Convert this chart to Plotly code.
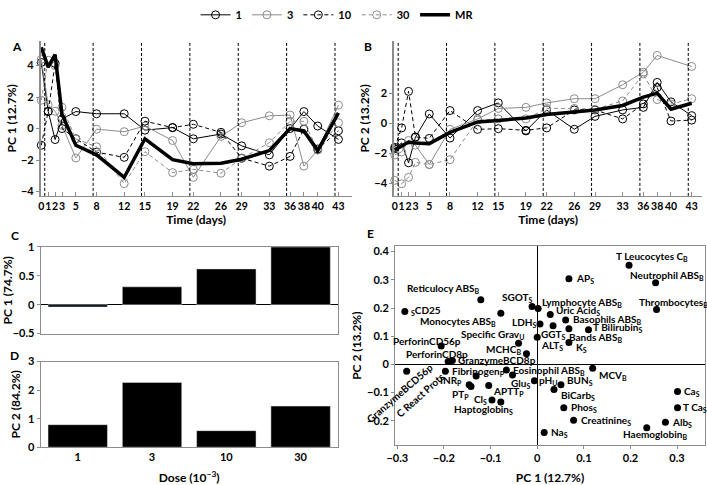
import plotly.graph_objects as go

# ---------------- data ----------------
DAYS = [0, 1, 2, 3, 5, 8, 12, 15, 19, 22, 26, 29, 33, 36, 38, 40, 43]
DAY_LABELS = [str(d) for d in DAYS]
DOSE_DAYS = [0.5, 7.5, 14.5, 21.5, 28.5, 35.5, 42.5]

A_1 = [4.2, 1.1, -0.7, 0.6, 1.08, 0.94, 0.94, -0.1, 0.06, -0.65, -0.35, -1.1, -1.67, 0.0, 1.08, 0.16, -0.69]
A_3 = [4.4, 1.5, 1.1, 0.2, -1.87, -0.04, -0.2, 0.16, -0.76, -3.1, -0.5, 0.37, 0.81, 0.86, -2.39, -1.36, 1.49]
A_10 = [-1.06, 1.08, 4.14, 0.0, -0.65, -1.5, -1.83, 0.47, 0.06, 0.27, -0.24, -1.88, -2.39, -1.77, -0.04, -1.3, -0.14]
A_30 = [1.8, 4.34, 4.0, 1.35, -0.65, -1.16, -3.5, -1.47, -2.8, -2.59, -2.84, -1.9, -0.9, 0.46, 0.46, -1.36, 0.37]
A_MR = [5.16, 3.9, 4.7, 0.9, -1.06, -1.67, -3.1, -0.65, -1.98, -2.24, -2.2, -1.95, -1.4, 0.0, -0.15, -1.4, 1.0]

B_1 = [-1.7, -1.3, -2.63, -0.92, 0.63, -0.98, 0.86, 1.37, -0.5, 0.9, -0.39, 0.47, 0.9, 1.07, 2.74, 1.44, 0.52]
B_3 = [-2.1, -1.9, -1.14, -1.45, -2.75, -0.4, 0.3, 1.0, 1.07, 1.37, 1.65, 1.65, 2.58, 3.42, 4.54, None, 3.8]
B_10 = [-1.6, -0.3, 2.14, -0.9, -1.0, 0.86, -0.4, -0.35, -0.46, -0.3, 0.9, 0.9, 0.3, 1.3, 2.4, 0.16, 0.22]
B_30 = [-3.8, -4.03, -3.6, -2.6, -2.74, -2.42, 0.22, 0.3, 0.3, 1.0, 1.0, 0.94, 1.5, 3.3, 1.59, 1.29, 1.65]
B_MR = [-1.77, -1.5, -1.24, -1.3, -1.35, -0.6, 0.1, 0.2, 0.36, 0.6, 0.8, 0.9, 1.2, 1.76, 2.02, 0.95, 1.35]

DOSES = ["1", "3", "10", "30"]
C_PC1 = [-0.04, 0.31, 0.62, 1.0]
D_PC2 = [0.79, 2.27, 0.58, 1.44]

E_NAMES = [
    "T Leucocytes C<sub>B</sub>", "Neutrophil ABS<sub>B</sub>", "Thrombocytes<sub>B</sub>", "AP<sub>S</sub>",
    "Reticulocy ABS<sub>B</sub>", "<sub>S</sub>CD25", "Monocytes ABS<sub>B</sub>", "SGOT<sub>S</sub>",
    "Lymphocyte ABS<sub>B</sub>", "Uric Acid<sub>S</sub>", "LDH<sub>S</sub>", "GGT<sub>S</sub>",
    "Basophils ABS<sub>B</sub>", "Bands ABS<sub>B</sub>", "T Bilirubin<sub>S</sub>", "ALT<sub>S</sub>",
    "K<sub>S</sub>", "Specific Grav<sub>U</sub>", "PerforinCD56p", "MCHC<sub>B</sub>",
    "PerforinCD8p", "GranzymeBCD8p", "GranzymeBCD56p", "Fibrinogen<sub>P</sub>",
    "C React Prots", "INR<sub>P</sub>", "PT<sub>P</sub>", "APTT<sub>P</sub>",
    "Cl<sub>S</sub>", "Haptoglobin<sub>S</sub>", "Eosinophil ABS<sub>B</sub>", "Glu<sub>S</sub>",
    "pH<sub>U</sub>", "BUN<sub>S</sub>", "BiCarb<sub>S</sub>", "MCV<sub>B</sub>",
    "Ca<sub>S</sub>", "T Ca<sub>S</sub>", "Phos<sub>S</sub>", "Creatinine<sub>S</sub>",
    "Alb<sub>S</sub>", "Haemoglobin<sub>B</sub>", "Na<sub>S</sub>",
]
E_PC1 = [0.197, 0.254, 0.256, 0.068, -0.121, -0.284, -0.078, -0.011, 0.002, 0.028, 0.006, 0.034,
         0.061, 0.068, 0.110, 0.0, 0.068, -0.040, -0.206, -0.023, -0.191, -0.182, -0.280, -0.197,
         -0.131, -0.146, -0.142, -0.104, -0.097, -0.078, -0.066, -0.053, -0.006, 0.051, 0.036, 0.119,
         0.301, 0.301, 0.057, 0.078, 0.275, 0.235, 0.015]
E_PC2 = [0.352, 0.290, 0.195, 0.304, 0.229, 0.188, 0.181, 0.205, 0.198, 0.177, 0.143, 0.137,
         0.157, 0.126, 0.123, 0.096, 0.078, 0.075, 0.065, 0.038, 0.010, 0.014, -0.024, -0.024,
         -0.041, -0.072, -0.078, -0.075, -0.126, -0.133, -0.020, -0.038, -0.058, -0.072, -0.089, -0.014,
         -0.096, -0.154, -0.154, -0.198, -0.205, -0.225, -0.242]

# label placement (anchor, x shift px, y shift px, angle)
E_LABEL_STYLE = [
    ("left", -15, 9, 0), ("left", -28, 7, 0), ("left", -20, 7, 0), ("left", 5, 0, 0),
    ("right", 0, 11, 0), ("left", 4, 1, 0), ("right", -3, -8, 0), ("right", 3, 9, 0),
    ("left", 2, 6, 0), ("left", 4, 4, 0), ("right", -1, 2, 0), ("center", 0, -9, 0),
    ("left", 5, 1, 0), ("left", -2, -9, 0), ("left", 3, 2, 0), ("left", 2, -8, 0),
    ("left", 5, -5, 0), ("right", 7, 9, 0), ("right", 22, 5, 0), ("right", -3, 4, 0),
    ("right", 22, 8, 0), ("left", 4, 0, 0), ("center", -7, -22, -41), ("left", 5, 0, 0),
    ("center", -56, -19, -42), ("right", -5, 4, 0), ("right", 0, -8, 0), ("left", 2, -6, 0),
    ("right", -3, 0, 0), ("right", 14, -8, 0), ("left", 5, 0, 0), ("left", -3, -8, 0),
    ("left", 3, 0, 0), ("left", 4, 4, 0), ("left", 5, -6, 0), ("left", 4, -7, 0),
    ("left", 4, 0, 0), ("left", 3, 0, 0), ("left", 5, 0, 0), ("left", 5, 0, 0),
    ("left", 5, 0, 0), ("left", -26, -7, 0), ("left", 5, 0, 0),
]

# ---------------- figure ----------------
W, H = 707, 485
FONT = "Lato"
GRAY = "#8c8c8c"


def dx(p0, p1):
    return [p0 / W, p1 / W]


def dy(top, bottom):
    return [1 - bottom / H, 1 - top / H]


fig = go.Figure()

series_style = [
    ("1", "black", "solid"),
    ("3", GRAY, "solid"),
    ("10", "black", "4px,3px"),
    ("30", GRAY, "4px,3px"),
]

for panel, (xa, ya, data, mr) in enumerate([
    ("x", "y", [A_1, A_3, A_10, A_30], A_MR),
    ("x2", "y2", [B_1, B_3, B_10, B_30], B_MR),
]):
    for (name, col, dash), vals in zip(series_style, data):
        fig.add_trace(go.Scatter(
            x=DAYS, y=vals, name=name, xaxis=xa, yaxis=ya, mode="lines+markers",
            line=dict(color=col, width=1, dash=dash), connectgaps=True,
            marker=dict(symbol="circle-open", size=8, color=col, line=dict(width=1, color=col)),
            showlegend=(panel == 0), legendgroup=name, cliponaxis=False,
        ))
    fig.add_trace(go.Scatter(
        x=DAYS, y=mr, name="MR", xaxis=xa, yaxis=ya, mode="lines",
        line=dict(color="black", width=3.5), showlegend=(panel == 0), legendgroup="MR",
        cliponaxis=False,
    ))

fig.add_trace(go.Bar(x=DOSES, y=C_PC1, xaxis="x3", yaxis="y3", marker_color="black",
                     width=0.8, showlegend=False))
fig.add_trace(go.Bar(x=DOSES, y=D_PC2, xaxis="x4", yaxis="y4", marker_color="black",
                     width=0.8, showlegend=False))

fig.add_trace(go.Scatter(x=E_PC1, y=E_PC2, xaxis="x5", yaxis="y5", mode="markers",
                         marker=dict(color="black", size=7), showlegend=False, cliponaxis=False))

shapes = []
for xr, yr in (("x", "y domain"), ("x2", "y2 domain")):
    for d in DOSE_DAYS:
        shapes.append(dict(type="line", xref=xr, yref=yr, x0=d, x1=d, y0=0, y1=1,
                           line=dict(color="black", width=1, dash="3px,2px")))

annotations = []
for name, x, y, (anc, sx, sy, ang) in zip(E_NAMES, E_PC1, E_PC2, E_LABEL_STYLE):
    annotations.append(dict(
        x=x, y=y, xref="x5", yref="y5", text=name, showarrow=False,
        xanchor=anc, yanchor="middle", xshift=sx, yshift=sy, textangle=ang,
        font=dict(size=10, family=FONT, color="black", weight="bold"),
    ))

for letter, px, py in (("A", 8, 36), ("B", 364, 36), ("C", 6, 232), ("D", 6, 357), ("E", 366, 230)):
    annotations.append(dict(x=px / W, y=1 - py / H, xref="paper", yref="paper", text=letter,
                            showarrow=False, xanchor="center", yanchor="middle",
                            font=dict(size=12, family=FONT, color="black", weight="bold")))

tickfont = dict(size=11, family=FONT, color="black", weight="bold")
titlefont = dict(size=12, family=FONT, color="black", weight="bold")

time_axis = dict(range=[-0.1, 44.9], tickvals=DAYS, ticktext=DAY_LABELS, showline=True,
                 linecolor=GRAY, linewidth=1, ticks="inside", ticklen=4, tickcolor=GRAY,
                 showgrid=False, zeroline=False, tickangle=0,
                 tickfont=dict(size=10.5, family=FONT, color="black", weight="bold"),
                 title=dict(text="Time (days)", font=titlefont, standoff=4))
pc_axis = dict(showline=True, linecolor=GRAY, linewidth=1.5, ticks="outside", ticklen=3,
               tickcolor=GRAY, showgrid=False, zeroline=False, tickfont=tickfont)
box_axis = dict(showline=True, mirror=True, linecolor=GRAY, linewidth=1, showgrid=False,
                ticks="outside", ticklen=3, tickcolor=GRAY, tickfont=tickfont)

fig.update_layout(
    width=W, height=H, margin=dict(l=0, r=0, t=0, b=0),
    paper_bgcolor="white", plot_bgcolor="white",
    font=dict(family=FONT, color="black", size=11, weight="bold"),
    xaxis=dict(domain=dx(32, 347), anchor="y", **time_axis),
    yaxis=dict(domain=dy(30, 191), anchor="x", range=[-4.28, 5.57], tickvals=[-4, -2, 0, 2, 4],
               title=dict(text="PC 1 (12.7%)", font=titlefont, standoff=2), **pc_axis),
    xaxis2=dict(domain=dx(390, 702), anchor="y2", **{**time_axis, "range": [-0.1, 44.5]}),
    yaxis2=dict(domain=dy(30, 191), anchor="x2", range=[-4.84, 5.51], tickvals=[-4, -2, 0, 2],
                title=dict(text="PC 2 (13.2%)", font=titlefont, standoff=2), **pc_axis),
    xaxis3=dict(domain=dx(32, 333), anchor="y3", range=[-0.5, 3.5], showticklabels=False,
                zeroline=False, **{**box_axis, "ticks": ""}),
    yaxis3=dict(domain=dy(244, 334), anchor="x3", range=[-0.5, 1], tickvals=[-0.5, 0, 0.5, 1],
                ticktext=["\u22120.5", "0", "0.5", "1"], zeroline=True, zerolinecolor="black",
                zerolinewidth=1, title=dict(text="PC 1 (74.7%)", font=titlefont, standoff=4),
                **box_axis),
    xaxis4=dict(domain=dx(32, 333), anchor="y4", range=[-0.5, 3.5], zeroline=False,
                title=dict(text="Dose (10<sup>\u22123</sup>)", font=titlefont, standoff=12),
                **{**box_axis, "ticks": ""}),
    yaxis4=dict(domain=dy(363, 452), anchor="x4", range=[0, 3], tickvals=[0, 1, 2, 3],
                zeroline=False, title=dict(text="PC 2 (84.2%)", font=titlefont, standoff=4),
                **box_axis),
    xaxis5=dict(domain=dx(391, 705), anchor="y5", range=[-0.305, 0.36],
                tickvals=[-0.3, -0.2, -0.1, 0, 0.1, 0.2, 0.3],
                ticktext=["\u22120.3", "\u22120.2", "\u22120.1", "0", "0.1", "0.2", "0.3"],
                zeroline=True, zerolinecolor="black", zerolinewidth=1,
                title=dict(text="PC 1 (12.7%)", font=titlefont, standoff=10), **box_axis),
    yaxis5=dict(domain=dy(243, 450), anchor="x5", range=[-0.287, 0.42],
                tickvals=[-0.2, -0.1, 0, 0.1, 0.2, 0.3, 0.4],
                ticktext=["\u22120.2", "\u22120.1", "0", "0.1", "0.2", "0.3", "0.4"],
                zeroline=True, zerolinecolor="black", zerolinewidth=1,
                title=dict(text="PC 2 (13.2%)", font=titlefont, standoff=2), **box_axis),
    legend=dict(orientation="h", x=0.47, xanchor="center", y=1.025, yanchor="top",
                font=dict(size=11, family=FONT, color="black", weight="bold"),
                bgcolor="rgba(0,0,0,0)", itemwidth=30, tracegroupgap=0),
    shapes=shapes, annotations=annotations,
)

fig.write_html("out.html", config={"displayModeBar": False},
               post_script="document.body.style.margin='0';document.body.style.overflow='hidden';")
